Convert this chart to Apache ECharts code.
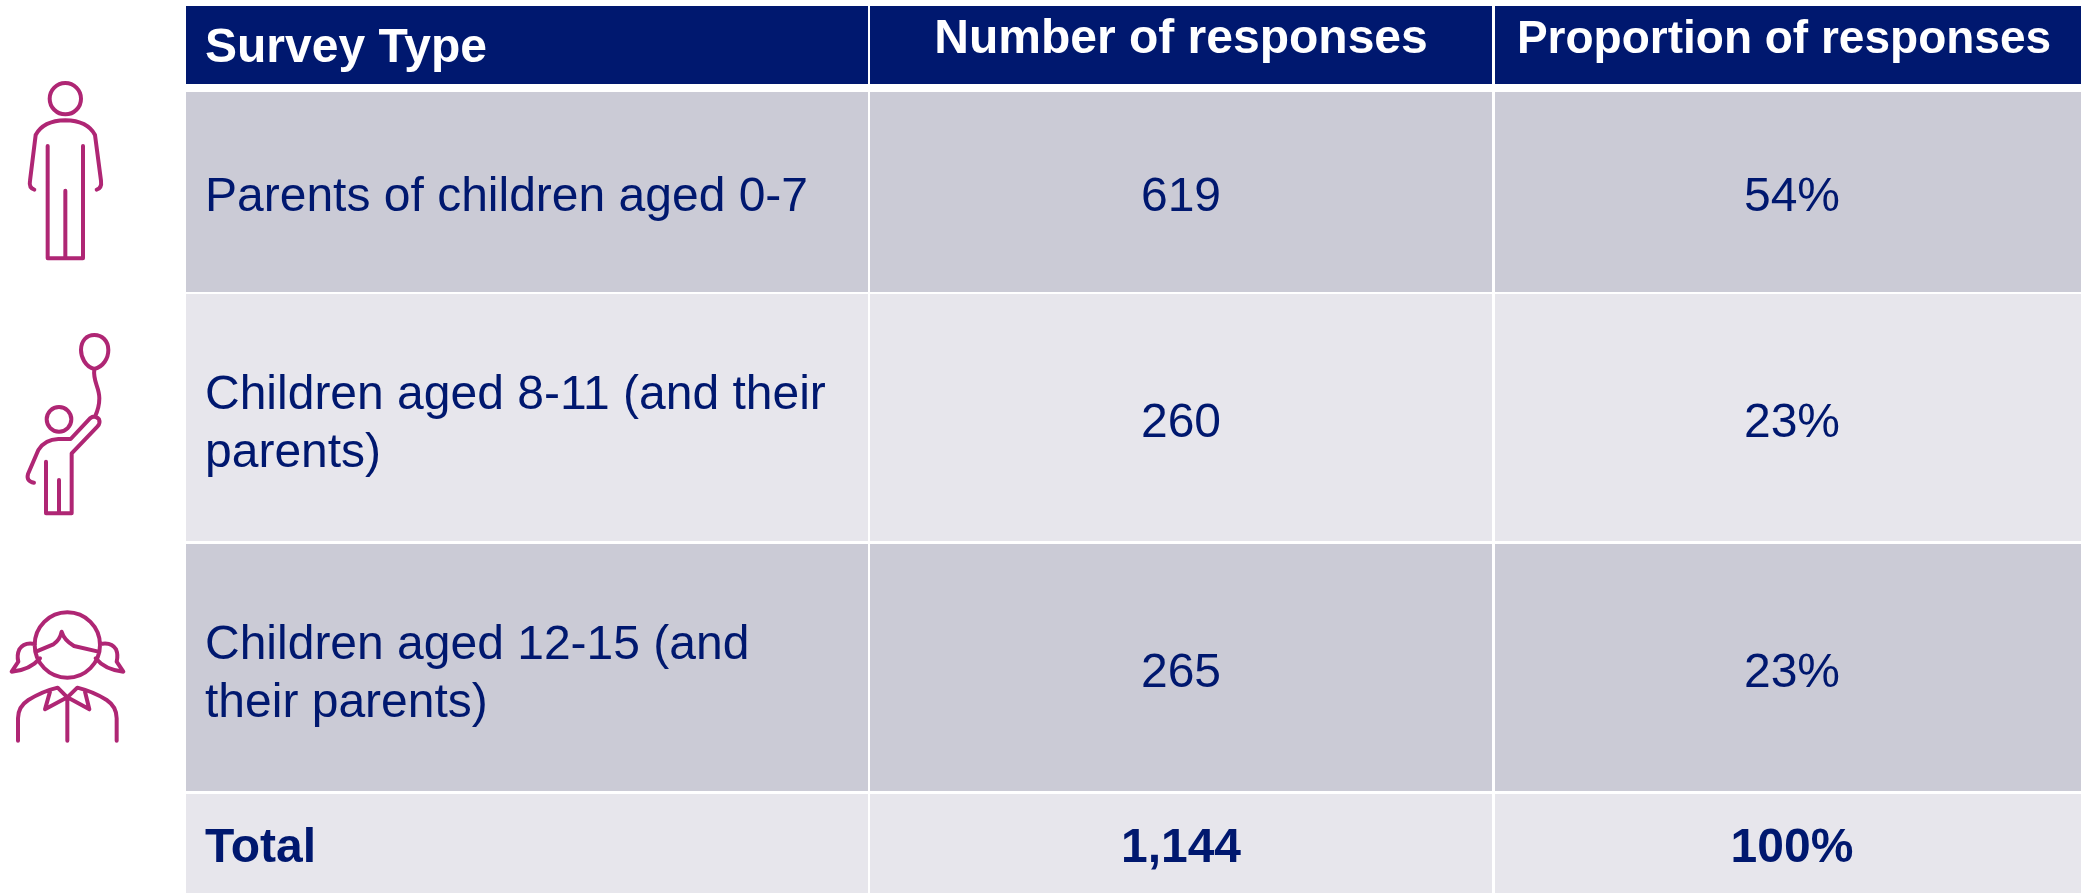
<!DOCTYPE html>
<html>
<head>
<meta charset="utf-8">
<style>
  html, body { margin: 0; padding: 0; background: #fff; }
  #main { width: 2081px; height: 893px; }
</style>
<script src="https://cdn.jsdelivr.net/npm/echarts@6/dist/echarts.min.js"></script>
</head>
<body>
<div id="main"></div>
<script>
var headers = ['Survey Type', 'Number of responses', 'Proportion of responses']
var surveyTypes = ['Parents of children aged 0-7', 'Children aged 8-11 (and their\nparents)', 'Children aged 12-15 (and\ntheir parents)', 'Total']
var responses = [619, 260, 265, 1144]
var proportions = [54, 23, 23, 100]

// layout of the table, in page pixels
var colEdges = [[186, 868], [870, 1492], [1495, 2081]]
var rowEdges = [[6, 84], [92, 292], [294, 541], [544, 791], [794, 893]]
var navy = '#00186F'
var magenta = '#AF2674'
var rowFill = ['#CBCBD6', '#E7E6EC']
var fontName = '"Liberation Sans", Arial, sans-serif'

// icons traced at 3x, placed with x/y and scale below
var iconAdult = 'M196 69a47 47 0 1 0 0.01 0Z M103 389Q86 384 90 362L107 225Q130 182 196 181Q262 182 285 225L303 362Q306 384 290 389 M143 258L143 595L249 595L249 258 M196 392L196 595'
var iconChild = 'M177 261a37 37 0 1 0 0.01 0Z M283 147C255 140 243 110 243 90C243 62 260 45 283 45C306 45 325 62 325 90C325 115 310 140 283 147Z M283 147C278 185 298 200 298 235C298 258 292 275 285 290 M102 488Q78 484 84 462L115 390Q135 358 175 357L212 357L270 295Q285 283 297 298Q302 310 292 320L215 400L215 580L138 580L138 425 M177 480L177 580'
var iconGirl = 'M202 67a98 98 0 1 0 0.01 0Z M108 185L160 163Q180 150 185 125Q192 150 222 168L295 185 M105 162Q72 155 58 178Q50 195 55 215L35 245Q90 240 120 205 M300 162Q335 155 348 178Q355 195 350 215L370 245Q315 240 287 205 M54 452L54 385Q54 350 85 330Q130 303 173 293L202 322L232 293Q280 305 320 330Q350 350 350 385L350 452 M150 305L135 358L202 322L268 358L255 305 M202 322L202 452'

echarts.graphic.registerShape('iconAdult', echarts.graphic.extendPath(iconAdult))
echarts.graphic.registerShape('iconChild', echarts.graphic.extendPath(iconChild))
echarts.graphic.registerShape('iconGirl', echarts.graphic.extendPath(iconGirl))

// one row per cell: col, row, text
var cells = []
headers.forEach(function (h, c) {
  cells.push([c, 0, h])
})
surveyTypes.forEach(function (name, i) {
  cells.push([0, i + 1, name])
  cells.push([1, i + 1, responses[i].toLocaleString('en-US')])
  cells.push([2, i + 1, proportions[i] + '%'])
})

// text anchors, they do not sit in the middle of the cells
var textX = [205, 1181, 1792]
var headerTextX = [205, 1181, 1784]
var headerTextY = [49, 40, 40]
var headerFontSize = [48, 48, 46]
var bodyTextY = [198, 424, 674, 849]
var nameTextY = [198, 425, 675, 849]

function renderCell(params, api) {
  var c = api.value(0)
  var r = api.value(1)
  var text = cells[params.dataIndex][2]
  var p0 = api.coord([colEdges[c][0], rowEdges[r][0]])
  var p1 = api.coord([colEdges[c][1], rowEdges[r][1]])
  var fill = r === 0 ? navy : rowFill[(r - 1) % 2]
  var bold = r === 0 || r === 4
  var tx = r === 0 ? headerTextX[c] : textX[c]
  var ty = r === 0 ? headerTextY[c] : (c === 0 ? nameTextY[r - 1] : bodyTextY[r - 1])
  return {
    type: 'group',
    children: [{
      type: 'rect',
      shape: { x: p0[0], y: p0[1], width: p1[0] - p0[0], height: p1[1] - p0[1] },
      style: { fill: fill }
    }, {
      type: 'text',
      style: {
        x: tx,
        y: ty,
        text: text,
        fill: r === 0 ? '#fff' : navy,
        fontFamily: fontName,
        fontSize: r === 0 ? headerFontSize[c] : 48,
        fontWeight: bold ? 'bold' : 'normal',
        lineHeight: 58,
        align: c === 0 ? 'left' : 'center',
        verticalAlign: 'middle'
      }
    }]
  }
}

function icon(shapeName, x, y) {
  return {
    type: shapeName,
    x: x,
    y: y,
    scaleX: 1 / 3,
    scaleY: 1 / 3,
    style: { fill: 'none', stroke: magenta, lineWidth: 12, lineCap: 'round', lineJoin: 'round' }
  }
}

var chart = echarts.init(document.getElementById('main'))
chart.setOption({
  animation: false,
  backgroundColor: '#fff',
  grid: { left: 0, right: 0, top: 0, bottom: 0 },
  xAxis: { type: 'value', min: 0, max: 2081, show: false },
  yAxis: { type: 'value', min: 0, max: 893, inverse: true, show: false },
  graphic: {
    elements: [
      icon('iconAdult', 0, 60),
      icon('iconChild', 0, 320),
      icon('iconGirl', 0, 590)
    ]
  },
  series: [{
    type: 'custom',
    coordinateSystem: 'cartesian2d',
    renderItem: renderCell,
    clip: false,
    silent: true,
    encode: { x: 0, y: 1 },
    data: cells.map(function (d) { return [d[0], d[1]] })
  }]
})
</script>
</body>
</html>
